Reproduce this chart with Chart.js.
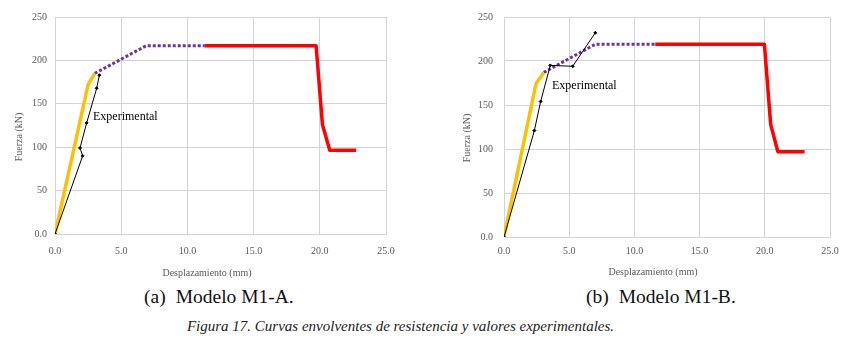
<!DOCTYPE html>
<html lang="es">
<head>
    <meta charset="UTF-8">
    <title>Curvas envolventes de resistencia</title>
    <style>
        body {
            margin: 0;
            padding: 0;
            background-color: #fff;
            font-family: 'Liberation Serif', 'Times New Roman', serif;
        }
        .page {
            position: relative;
            width: 849px;
            height: 349px;
            overflow: hidden;
        }
        .chartBox {
            position: absolute;
            top: 0;
            height: 285px;
        }
        .sub {
            position: absolute;
            top: 285px;
            font-size: 19.5px;
            line-height: 23px;
            white-space: pre;
            color: #111;
        }
        .sub span {
            margin-left: 10px;
        }
        .fig {
            position: absolute;
            top: 317px;
            left: 0;
            width: 801px;
            text-align: center;
            font-style: italic;
            font-size: 15px;
            line-height: 18px;
            color: #222;
        }
    </style>
</head>
<body>
<div class="page">
    <div class="chartBox" style="left:0;width:425px"><canvas id="chartA"></canvas></div>
    <div class="chartBox" style="left:430px;width:419px"><canvas id="chartB"></canvas></div>
    <div class="sub" style="left:144px">(a)<span>Modelo M1-A.</span></div>
    <div class="sub" style="left:586px">(b)<span>Modelo M1-B.</span></div>
    <div class="fig">Figura 17. Curvas envolventes de resistencia y valores experimentales.</div>
</div>
<script src="https://cdn.jsdelivr.net/npm/chart.js"></script>
<script>
    // axis ticks
    const xTicks = [0, 5, 10, 15, 20, 25];
    const yTicks = [0, 50, 100, 150, 200, 250];

    // Modelo M1-A (desplazamiento mm / fuerza kN)
    const elasticA_x = [0, 2.5, 3.0];
    const elasticA_y = [0, 172, 185];
    const plasticA_x = [3.0, 6.9, 11.3];
    const plasticA_y = [185, 217, 217];
    const failA_x = [11.3, 19.72, 20.2, 20.75, 22.75];
    const failA_y = [217, 217, 126, 96.5, 96.5];
    const expA_x = [0, 2.09, 1.89, 2.39, 3.15, 3.35];
    const expA_y = [0, 90, 99, 128, 168, 183];

    // Modelo M1-B
    const elasticB_x = [0, 2.45, 3.05];
    const elasticB_y = [0, 174, 187];
    const plasticB_x = [3.05, 7.0, 11.6];
    const plasticB_y = [187, 219, 219];
    const failB_x = [11.6, 19.97, 20.45, 21.0, 23.05];
    const failB_y = [219, 219, 128, 97, 97];
    const expB_x = [0, 2.33, 2.81, 3.55, 5.27, 7.0];
    const expB_y = [0, 121, 154, 195, 194, 232];

    const pts = (xs, ys) => xs.map((x, i) => ({ x: x, y: ys[i] }));
    const serif = "'Liberation Serif', 'Times New Roman', serif";
    const grey = '#595959';
    const gridColor = '#d4d4d4';

    // axis titles and the "Experimental" label
    const textPlugin = {
        id: 'textPlugin',
        afterDatasetsDraw(chart, args, opts) {
            const ctx = chart.ctx;
            ctx.save();
            ctx.fillStyle = grey;
            ctx.font = '10px ' + serif;
            ctx.textAlign = 'center';
            ctx.textBaseline = 'middle';
            ctx.fillText('Desplazamiento (mm)', opts.xTitle[0], opts.xTitle[1]);
            ctx.translate(opts.yTitle[0], opts.yTitle[1]);
            ctx.rotate(-Math.PI / 2);
            ctx.fillText('Fuerza (kN)', 0, 0);
            ctx.restore();

            ctx.save();
            ctx.fillStyle = '#000';
            ctx.font = '12px ' + serif;
            ctx.textAlign = 'left';
            ctx.textBaseline = 'middle';
            const sx = chart.scales.x, sy = chart.scales.y;
            ctx.fillText('Experimental', sx.getPixelForValue(opts.label[0]), sy.getPixelForValue(opts.label[1]));
            ctx.restore();
        }
    };

    function makeChart(id, d, lay) {
        const ctx = document.getElementById(id).getContext('2d');
        return new Chart(ctx, {
            type: 'scatter',
            data: {
                datasets: [
                    {
                        label: 'Experimental',
                        data: pts(d.expX, d.expY),
                        showLine: true,
                        borderColor: '#000',
                        backgroundColor: '#000',
                        borderWidth: 1,
                        pointRadius: 1.5,
                        pointStyle: 'rectRot',
                        order: 0
                    },
                    {
                        label: 'Elástico',
                        data: pts(d.elX, d.elY),
                        showLine: true,
                        borderColor: '#FFC000',
                        borderWidth: 3.5,
                        pointRadius: 0,
                        order: 1
                    },
                    {
                        label: 'Plástico',
                        data: pts(d.plX, d.plY),
                        showLine: true,
                        borderColor: '#7030A0',
                        borderWidth: 3,
                        borderDash: [3, 2],
                        pointRadius: 0,
                        order: 2
                    },
                    {
                        label: 'Falla',
                        data: pts(d.fX, d.fY),
                        showLine: true,
                        borderColor: '#FF0000',
                        borderWidth: 3.5,
                        borderJoinStyle: 'round',
                        pointRadius: 0,
                        order: 3
                    }
                ]
            },
            options: {
                responsive: true,
                maintainAspectRatio: false,
                animation: false,
                layout: {
                    padding: { left: 0, right: lay.right, top: lay.top, bottom: 0 }
                },
                plugins: {
                    legend: { display: false },
                    tooltip: { enabled: false },
                    textPlugin: { xTitle: lay.xTitle, yTitle: lay.yTitle, label: lay.label }
                },
                scales: {
                    x: {
                        type: 'linear',
                        min: xTicks[0],
                        max: xTicks[xTicks.length - 1],
                        afterBuildTicks: (s) => { s.ticks = xTicks.map(v => ({ value: v })); },
                        afterFit: (s) => { s.height = lay.xH; },
                        grid: { color: gridColor, drawTicks: false },
                        border: { color: gridColor },
                        ticks: {
                            padding: lay.xPad,
                            color: grey,
                            font: { family: serif, size: 10 },
                            maxRotation: 0,
                            callback: (v) => Number(v).toFixed(1)
                        }
                    },
                    y: {
                        type: 'linear',
                        min: yTicks[0],
                        max: yTicks[yTicks.length - 1],
                        afterBuildTicks: (s) => { s.ticks = yTicks.map(v => ({ value: v })); },
                        afterFit: (s) => { s.width = lay.yW; },
                        grid: { color: gridColor, drawTicks: false },
                        border: { color: gridColor },
                        ticks: {
                            padding: lay.yPad,
                            color: grey,
                            font: { family: serif, size: 10 },
                            callback: (v) => v === 0 ? '0.0' : String(v)
                        }
                    }
                }
            },
            plugins: [textPlugin]
        });
    }

    makeChart('chartA',
        { expX: expA_x, expY: expA_y, elX: elasticA_x, elY: elasticA_y, plX: plasticA_x, plY: plasticA_y, fX: failA_x, fY: failA_y },
        { right: 39, top: 17, xH: 51, yW: 55, xPad: 11, yPad: 8, xTitle: [207, 273], yTitle: [19, 137], label: [2.87, 135] });

    makeChart('chartB',
        { expX: expB_x, expY: expB_y, elX: elasticB_x, elY: elasticB_y, plX: plasticB_x, plY: plasticB_y, fX: failB_x, fY: failB_y },
        { right: 19, top: 14, xH: 48, yW: 74, xPad: 8, yPad: 11, xTitle: [223, 272], yTitle: [37, 138], label: [3.68, 172] });
</script>
</body>
</html>
